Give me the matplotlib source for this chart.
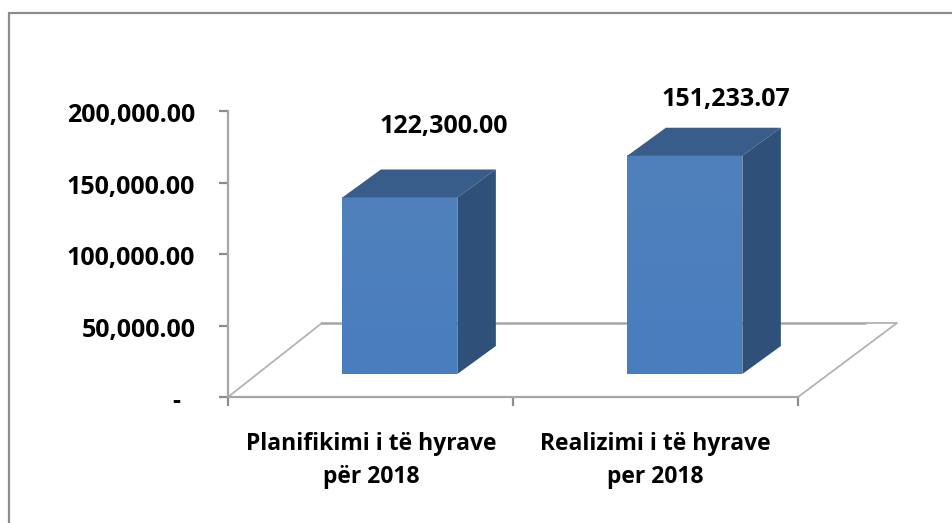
import matplotlib
matplotlib.use("Agg")
import matplotlib.pyplot as plt
import numpy as np
from matplotlib.patches import Polygon, Rectangle
from matplotlib.transforms import ScaledTranslation

categories = ["Planifikimi i të hyrave\npër 2018", "Realizimi i të hyrave\nper 2018"]
values = [122300.00, 151233.07]
value_labels = ["122,300.00", "151,233.07"]
y_ticks = [0, 50000, 100000, 150000, 200000]
y_tick_labels = ["-", "50,000.00", "100,000.00", "150,000.00", "200,000.00"]

W, H = 953, 523
plt.rcParams["font.family"] = ["Open Sans", "DejaVu Sans"]
fig = plt.figure(figsize=(W / 100, H / 100), dpi=100)
fig.add_artist(Rectangle((9 / W, -0.02), 1.1, 1 - 13 / H + 0.02, transform=fig.transFigure,
                         fill=False, ec="#8c8c8c", lw=1.6))

x0, x1, yb, yt = 228, 798, 397, 111.5
ax = fig.add_axes([x0 / W, 1 - yb / H, (x1 - x0) / W, (yb - yt) / H])
ax.set_xlim(0, 2)
ax.set_ylim(0, 200000)
ax.patch.set_alpha(0)
for s in ("top", "right"):
    ax.spines[s].set_visible(False)
for s in ("left", "bottom"):
    ax.spines[s].set_color("#a6a6a6")
    ax.spines[s].set_linewidth(1.6)

px_x = 2 / (x1 - x0)
px_y = 200000 / (yb - yt)
dx, dy = 38.5 * px_x, 28 * px_y
base = 23 * px_y
half = 57.5 * px_x
gain = 1.011
TICK_FS = 18

ax.set_xticks([0, 1, 2])
ax.set_xticklabels(["", "", ""])
ax.set_yticks(y_ticks)
ax.set_yticklabels(y_tick_labels, fontsize=TICK_FS, fontweight="bold", color="black")
ax.tick_params(axis="both", color="#8c8c8c", width=1.6, length=6.5, pad=17)
for k, lab in enumerate(ax.get_yticklabels()):
    shift_x = -15 / 100 if k == 0 else 0
    lab.set_transform(lab.get_transform() + ScaledTranslation(shift_x, -1.5 / 100, fig.dpi_scale_trans))

floor_c = "#b3b3b3"
back_y = 74 * px_y
back_l, back_r = (322 - x0) * px_x, (897 - x0) * px_x
wall_end = (865 - x0) * px_x
ax.plot([0, back_l], [0, back_y], color=floor_c, lw=1.3, clip_on=False, zorder=1)
ax.plot([back_l, wall_end], [back_y, back_y], color="#a6a6a6", lw=1.8, clip_on=False, zorder=1)
ax.plot([wall_end, back_r, 2], [back_y, back_y, 0], color=floor_c, lw=1.3, clip_on=False, zorder=1)

for i, v in enumerate(values):
    c = i + 0.603
    l, r = c - half, c + half
    top = base + v * gain
    front = np.linspace(0, 1, 64)[:, None]
    cols = np.array([0x50, 0x81, 0xbc])[None, :] * (1 - front) + np.array([0x49, 0x7d, 0xbf])[None, :] * front
    ax.imshow(cols[:, None, :] / 255, extent=(l, r, base, top), aspect="auto", zorder=3, interpolation="bilinear")
    ax.add_patch(Polygon([(l, top), (r, top), (r + dx, top + dy), (l + dx, top + dy)], fc="#385d8a", ec="none", zorder=3))
    ax.add_patch(Polygon([(r, base), (r + dx, base + dy), (r + dx, top + dy), (r, top)], fc="#2f5079", ec="none", zorder=3))

ax.set_xlim(0, 2)
ax.set_ylim(0, 200000)

ax.text((443.5 - x0) * px_x, (yb - 127) * px_y, value_labels[0], ha="center", va="center",
        fontsize=TICK_FS, fontweight="bold", clip_on=False, zorder=5)
ax.text((725.5 - x0) * px_x, (yb - 100) * px_y, value_labels[1], ha="center", va="center",
        fontsize=TICK_FS, fontweight="bold", clip_on=False, zorder=5)
cat_x = [371, 655]
for cx, cat in zip(cat_x, categories):
    ax.text((cx - x0) * px_x, (yb - 460.5) * px_y, cat, ha="center", va="center", fontsize=16.5, fontweight="bold",
            linespacing=1.52, clip_on=False)

fig.savefig("out.png", dpi=100)
